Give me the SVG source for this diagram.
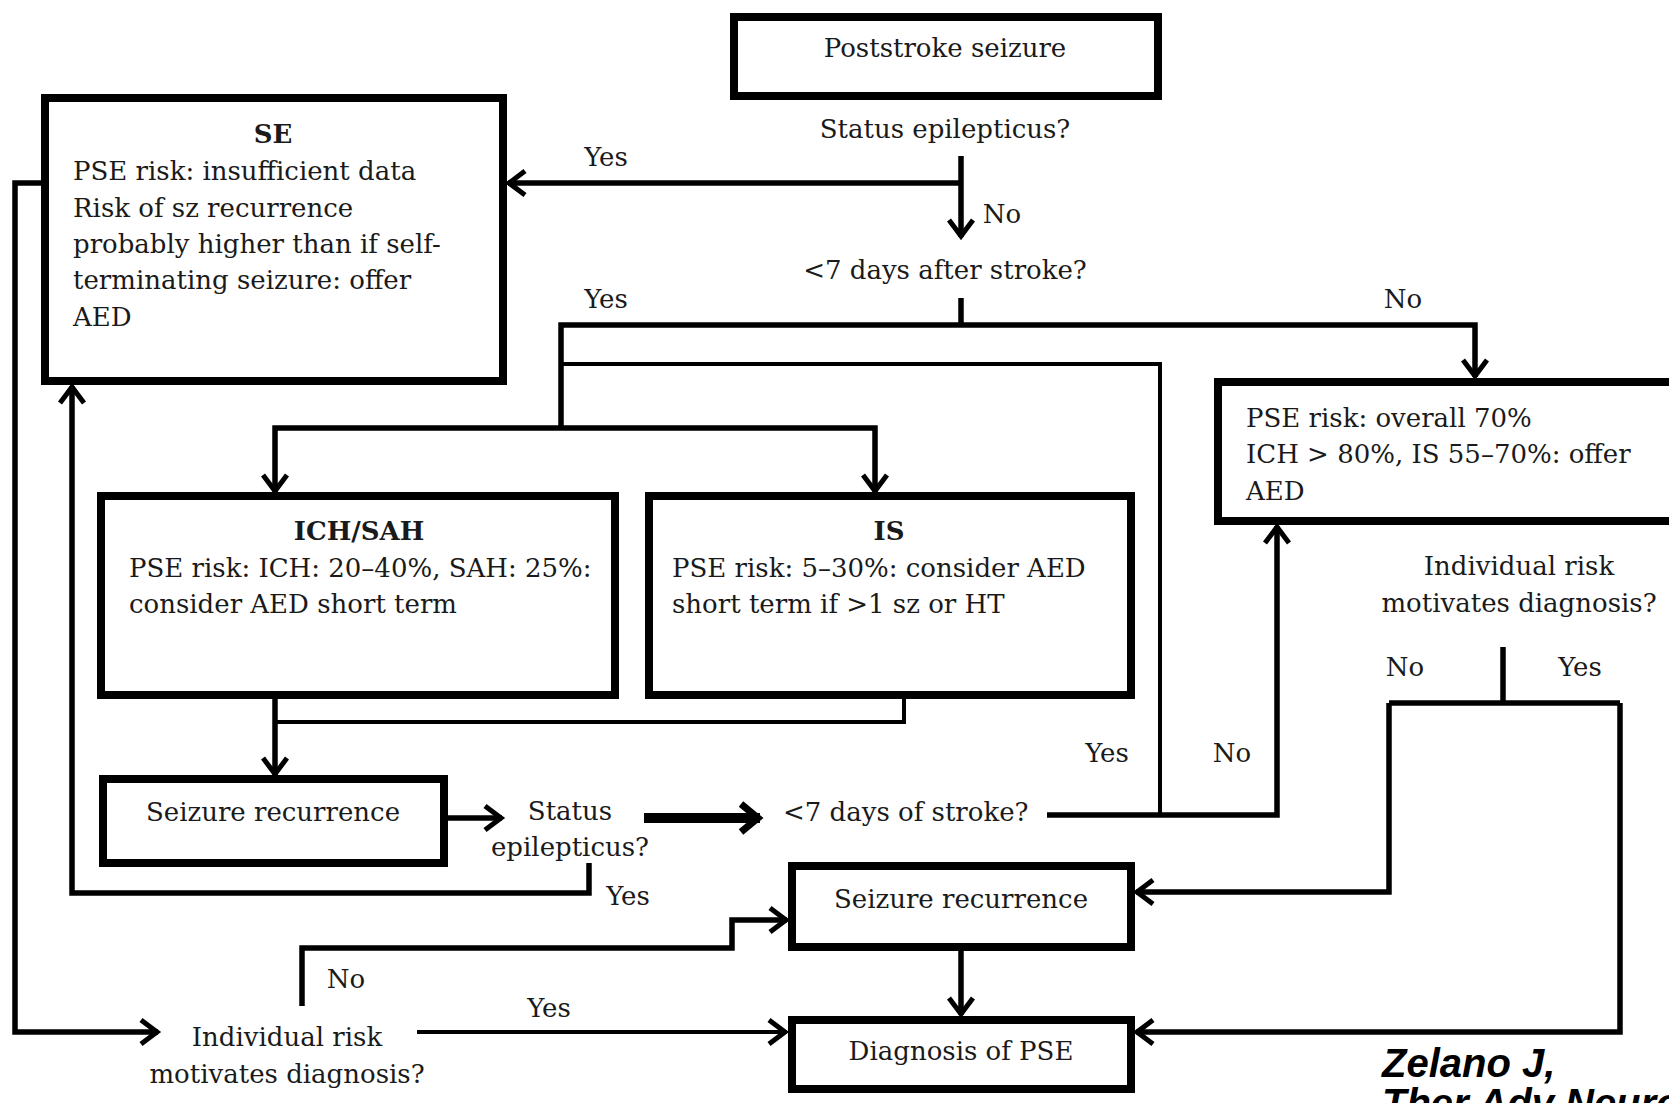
<svg xmlns="http://www.w3.org/2000/svg" width="1669" height="1103" viewBox="0 0 1669 1103">
<style>
.box{fill:#fff;stroke:#000;stroke-width:8;stroke-linejoin:miter}
.c{fill:none;stroke:#000;stroke-width:5.5;stroke-linejoin:miter}
.t{fill:none;stroke:#000;stroke-width:4;stroke-linejoin:miter}
.k{fill:none;stroke:#000;stroke-width:10}
text{font-family:"DejaVu Serif","Liberation Serif",serif;font-size:26px;fill:#1a1a1a}
.b{font-weight:bold}
.m{text-anchor:middle}
.cr{font-family:"Liberation Sans",Arial,sans-serif;font-weight:bold;font-style:italic;font-size:40px;fill:#000}
</style>
<defs>
<marker id="arr" markerUnits="userSpaceOnUse" viewBox="0 0 26 30" markerWidth="26" markerHeight="30" refX="22" refY="15" orient="auto">
<path d="M5,3 L21,15 L5,27" fill="none" stroke="#000" stroke-width="5"/>
</marker>
<marker id="arrK" markerUnits="userSpaceOnUse" viewBox="0 0 30 34" markerWidth="30" markerHeight="34" refX="25" refY="17" orient="auto">
<path d="M6,3 L23,17 L6,31" fill="none" stroke="#000" stroke-width="7"/>
</marker>
</defs>
<rect width="1669" height="1103" fill="#fff"/>

<g id="connectors">
<path class="c" d="M961,156 V237" marker-end="url(#arr)"/>
<path class="c" d="M961,183 H508" marker-end="url(#arr)"/>
<path class="c" d="M961,298 V325"/>
<path class="c" d="M561,428 V325 H1475 V377" marker-end="url(#arr)"/>
<path class="c" d="M561,428 H275 V492" marker-end="url(#arr)"/>
<path class="c" d="M561,428 H875 V492" marker-end="url(#arr)"/>
<path class="t" d="M561,364 H1160 V815"/>
<path class="c" d="M275,699 V775" marker-end="url(#arr)"/>
<path class="t" d="M275,722 H904 V699"/>
<path class="c" d="M448,818 H502" marker-end="url(#arr)"/>
<path class="k" d="M644,818 H760" marker-end="url(#arrK)"/>
<path class="c" d="M1047,815 H1277 V526" marker-end="url(#arr)"/>
<path class="c" d="M589,863 V893 H72 V386" marker-end="url(#arr)"/>
<path class="c" d="M45,183 H15 V1032 H158" marker-end="url(#arr)"/>
<path class="c" d="M302,1006 V948 H732 V920 H787" marker-end="url(#arr)"/>
<path class="t" d="M417,1032 H786" marker-end="url(#arr)"/>
<path class="c" d="M961,951 V1015" marker-end="url(#arr)"/>
<path class="c" d="M1503,647 V703"/>
<path class="c" d="M1389,703 H1620"/>
<path class="c" d="M1389,703 V892 H1136" marker-end="url(#arr)"/>
<path class="c" d="M1620,703 V1032 H1136" marker-end="url(#arr)"/>
</g>

<g id="poststroke">
<rect class="box" x="734" y="17" width="424" height="79"/>
<text class="m" x="945" y="57">Poststroke seizure</text>
</g>
<g id="q-status">
<text class="m" x="945" y="138">Status epilepticus?</text>
</g>
<g id="q-7days">
<text class="m" x="945" y="279">&lt;7 days after stroke?</text>
</g>
<g id="se">
<rect class="box" x="45" y="98" width="458" height="283"/>
<text class="m b" x="273" y="143">SE</text>
<text x="73" y="180">PSE risk: insufficient data</text>
<text x="73" y="217">Risk of sz recurrence</text>
<text x="73" y="253">probably higher than if self-</text>
<text x="73" y="289">terminating seizure: offer</text>
<text x="73" y="326">AED</text>
</g>
<g id="ich">
<rect class="box" x="101" y="496" width="514" height="199"/>
<text class="m b" x="359" y="540">ICH/SAH</text>
<text x="129" y="577">PSE risk: ICH: 20–40%, SAH: 25%:</text>
<text x="129" y="613">consider AED short term</text>
</g>
<g id="is">
<rect class="box" x="649" y="496" width="482" height="199"/>
<text class="m b" x="889" y="540">IS</text>
<text x="672" y="577">PSE risk: 5–30%: consider AED</text>
<text x="672" y="613">short term if &gt;1 sz or HT</text>
</g>
<g id="late">
<rect class="box" x="1218" y="382" width="520" height="139"/>
<text x="1246" y="427">PSE risk: overall 70%</text>
<text x="1246" y="463">ICH &gt; 80%, IS 55–70%: offer</text>
<text x="1246" y="500">AED</text>
</g>
<g id="recur1">
<rect class="box" x="103" y="779" width="341" height="84"/>
<text class="m" x="273" y="821">Seizure recurrence</text>
</g>
<g id="q-status2">
<text class="m" x="570" y="820">Status</text>
<text class="m" x="570" y="856">epilepticus?</text>
</g>
<g id="q-7days2">
<text x="783" y="821">&lt;7 days of stroke?</text>
</g>
<g id="q-indiv-right">
<text class="m" x="1519" y="575">Individual risk</text>
<text class="m" x="1519" y="612">motivates diagnosis?</text>
</g>
<g id="q-indiv-left">
<text class="m" x="287" y="1046">Individual risk</text>
<text class="m" x="287" y="1083">motivates diagnosis?</text>
</g>
<g id="recur2">
<rect class="box" x="792" y="866" width="339" height="81"/>
<text class="m" x="961" y="908">Seizure recurrence</text>
</g>
<g id="diag">
<rect class="box" x="792" y="1020" width="339" height="69"/>
<text class="m" x="961" y="1060">Diagnosis of PSE</text>
</g>

<g id="labels">
<text class="m" x="606" y="166">Yes</text>
<text class="m" x="1002" y="223">No</text>
<text class="m" x="606" y="308">Yes</text>
<text class="m" x="1403" y="308">No</text>
<text class="m" x="1107" y="762">Yes</text>
<text class="m" x="1232" y="762">No</text>
<text class="m" x="628" y="905">Yes</text>
<text class="m" x="346" y="988">No</text>
<text class="m" x="549" y="1017">Yes</text>
<text class="m" x="1405" y="676">No</text>
<text class="m" x="1580" y="676">Yes</text>
</g>

<g id="credit">
<text class="cr" x="1382" y="1077">Zelano J,</text>
<text class="cr" x="1382" y="1117">Ther Adv Neurol Disord</text>
</g>
</svg>
